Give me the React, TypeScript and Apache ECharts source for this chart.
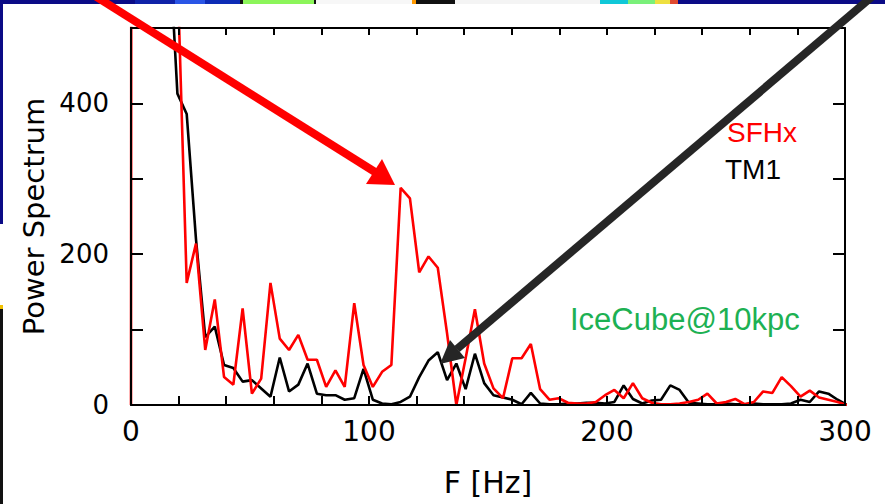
import React, { useEffect, useRef } from "react";
import * as echarts from "echarts";

// Frequency grid [Hz] (bin spacing ~3.906 Hz)
const freqHz = [
  0, 3.9, 7.8, 11.7, 15.6, 19.5, 23.4, 27.3, 31.2, 35.2,
  39.1, 43.0, 46.9, 50.8, 54.7, 58.6, 62.5, 66.4, 70.3, 74.2,
  78.1, 82.0, 85.9, 89.8, 93.8, 97.7, 101.6, 105.5, 109.4, 113.3,
  117.2, 121.1, 125.0, 128.9, 132.8, 136.7, 140.6, 144.5, 148.4, 152.3,
  156.3, 160.2, 164.1, 168.0, 171.9, 175.8, 179.7, 183.6, 187.5, 191.4,
  195.3, 199.2, 203.1, 207.0, 210.9, 214.8, 218.8, 222.7, 226.6, 230.5,
  234.4, 238.3, 242.2, 246.1, 250.0, 253.9, 257.8, 261.7, 265.6, 269.5,
  273.4, 277.3, 281.3, 285.2, 289.1, 293.0, 296.9, 300.8,
];

// SFHx power spectrum (red)
const sfhx = [
  0, 20000, 9000, 4000, 1500, 580, 162, 214, 73, 140,
  37, 27, 128, 15, 35, 162, 88, 73, 93, 60,
  60, 24, 46, 24, 135, 53, 24, 44, 53, 288,
  274, 176, 197, 182, 95, 0, 62, 127, 55, 22,
  9, 62, 62, 81, 21, 7, 9, 3, 2, 2,
  4, 13, 20, 9, 29, 9, 3, 1, 1, 2,
  4, 7, 15, 2, 4, 8, 1, 4, 18, 16,
  37, 25, 11, 19, 10, 7, 4, 0,
];

// TM1 power spectrum (black)
const tm1 = [
  20000, 15000, 8000, 3000, 640, 413, 386, 220, 90, 104,
  53, 49, 31, 33, 22, 11, 63, 18, 27, 55,
  15, 13, 13, 7, 9, 48, 7, 2, 1, 4,
  11, 37, 59, 70, 33, 55, 21, 68, 29, 13,
  10, 7, 1, 16, 2, 1, 1, 2, 2, 3,
  3, 2, 4, 26, 8, 2, 6, 7, 26, 20,
  3, 2, 1, 1, 2, 1, 1, 2, 1, 1,
  1, 2, 7, 4, 18, 15, 7, 0,
];

const xTickLabels = [0, 100, 200, 300];
const yTickLabels = [0, 200, 400];

const seriesNames = ["SFHx", "TM1"];
const annotation = "IceCube@10kpc";

export default function App() {
  const ref = useRef<HTMLDivElement>(null);

  useEffect(() => {
    if (!ref.current) return;
    const chart = echarts.init(ref.current, undefined, { renderer: "svg" });

    const toPairs = (ys: number[]) => ys.map((v, i) => [freqHz[i], v]);

    const axisLineStyle = { color: "#000", width: 2 };

    const topStrip: [number, number, string][] = [
      [0, 135, "#0b0b86"],
      [135, 175, "#0f22a8"],
      [175, 205, "#2a55e6"],
      [205, 240, "#0d2cb6"],
      [240, 243, "#111"],
      [243, 314, "#8cf55a"],
      [314, 316, "#111"],
      [316, 412, "#f7f7f7"],
      [412, 416, "#ff9900"],
      [416, 455, "#111111"],
      [455, 600, "#f4f4f4"],
      [600, 628, "#10c8d8"],
      [628, 655, "#7af07a"],
      [655, 670, "#eee040"],
      [670, 678, "#e04a30"],
      [678, 885, "#0b0b86"],
    ];
    const leftStrip: [number, number, string][] = [
      [0, 224, "#0b0b86"],
      [224, 305, "#ffffff"],
      [305, 309, "#f0c000"],
      [309, 504, "#111111"],
    ];

    const graphics: any[] = [];
    topStrip.forEach(([a, b, c]) =>
      graphics.push({ type: "rect", shape: { x: a, y: 0, width: b - a, height: 4 }, style: { fill: c }, z: 50 })
    );
    leftStrip.forEach(([a, b, c]) =>
      graphics.push({ type: "rect", shape: { x: 0, y: a, width: 3, height: b - a }, style: { fill: c }, z: 50 })
    );

    // Red arrow
    graphics.push({
      type: "line",
      shape: { x1: 95, y1: -4, x2: 375, y2: 172 },
      style: { stroke: "#ff0000", lineWidth: 8 },
      z: 60,
    });
    graphics.push({
      type: "polygon",
      shape: { points: [[366, 184], [382, 159], [395, 185]] },
      style: { fill: "#ff0000" },
      z: 60,
    });
    // Black arrow
    graphics.push({
      type: "line",
      shape: { x1: 874, y1: -5, x2: 457, y2: 349 },
      style: { stroke: "#262626", lineWidth: 8 },
      z: 60,
    });
    graphics.push({
      type: "polygon",
      shape: { points: [[465, 358], [450, 340], [440, 364]] },
      style: { fill: "#262626" },
      z: 60,
    });

    // legend-like labels
    graphics.push({
      type: "text",
      x: 727,
      y: 132,
      style: { text: seriesNames[0], fill: "#ff0000", font: "28px 'Liberation Sans', Arial, sans-serif", verticalAlign: "middle" },
      z: 55,
    });
    graphics.push({
      type: "text",
      x: 725,
      y: 169,
      style: { text: seriesNames[1], fill: "#000000", font: "28px 'Liberation Sans', Arial, sans-serif", verticalAlign: "middle" },
      z: 55,
    });
    graphics.push({
      type: "text",
      x: 570,
      y: 319,
      style: { text: annotation, fill: "#1db153", font: "31px 'Liberation Sans', Arial, sans-serif", verticalAlign: "middle" },
      z: 55,
    });

    const tickOnlyX = (position: string, length: number) => ({
      type: "value",
      min: 0,
      max: 300,
      interval: 20,
      position,
      axisLine: { show: true, onZero: false, lineStyle: axisLineStyle },
      axisTick: { show: true, inside: true, length, lineStyle: { color: "#000", width: 2 } },
      axisLabel: { show: false },
      splitLine: { show: false },
      z: 10,
    });
    const tickOnlyY = (position: string) => ({
      type: "value",
      min: 0,
      max: 500,
      interval: 100,
      position,
      axisLine: { show: true, onZero: false, lineStyle: axisLineStyle },
      axisTick: { show: true, inside: true, length: 12, lineStyle: { color: "#000", width: 2 } },
      axisLabel: { show: false },
      splitLine: { show: false },
      z: 10,
    });

    chart.setOption({
      animation: false,
      backgroundColor: "#ffffff",
      grid: { left: 131, right: 40, top: 28, bottom: 99, containLabel: false },
      xAxis: [
        {
          type: "value",
          min: 0,
          max: 300,
          interval: 100,
          position: "bottom",
          name: "F [Hz]",
          nameLocation: "middle",
          nameGap: 62,
          nameTextStyle: { fontFamily: "DejaVu Sans", fontSize: 30, color: "#000" },
          axisLine: { show: false, onZero: false },
          axisTick: { show: false },
          axisLabel: {
            margin: 12,
            fontFamily: "DejaVu Sans",
            fontSize: 28,
            color: "#000",
            formatter: (v: number) => (xTickLabels.includes(v) ? String(v) : ""),
          },
          splitLine: { show: false },
        },
        tickOnlyX("top", 7),
        tickOnlyX("bottom", 9),
      ],
      yAxis: [
        {
          type: "value",
          min: 0,
          max: 500,
          interval: 100,
          position: "left",
          name: "Power Spectrum",
          nameLocation: "middle",
          nameRotate: 90,
          nameGap: 80,
          nameTextStyle: { fontFamily: "DejaVu Sans", fontSize: 29, color: "#000" },
          axisLine: { show: false, onZero: false },
          axisTick: { show: false },
          axisLabel: {
            margin: 22,
            fontFamily: "DejaVu Sans",
            fontSize: 26,
            color: "#000",
            formatter: (v: number) => (yTickLabels.includes(v) ? String(v) : ""),
          },
          splitLine: { show: false },
        },
        tickOnlyY("right"),
        tickOnlyY("left"),
      ],
      series: [
        {
          name: seriesNames[1],
          type: "line",
          data: toPairs(tm1),
          showSymbol: false,
          clip: true,
          lineStyle: { color: "#000000", width: 2.6 },
          itemStyle: { color: "#000000" },
          z: 3,
        },
        {
          name: seriesNames[0],
          type: "line",
          data: toPairs(sfhx),
          showSymbol: false,
          clip: true,
          lineStyle: { color: "#ff0000", width: 2.6 },
          itemStyle: { color: "#ff0000" },
          z: 4,
        },
      ],
      graphic: { elements: graphics },
    });

    return () => chart.dispose();
  }, []);

  return <div ref={ref} style={{ width: 885, height: 504, position: "absolute", left: 0, top: 0 }} />;
}
